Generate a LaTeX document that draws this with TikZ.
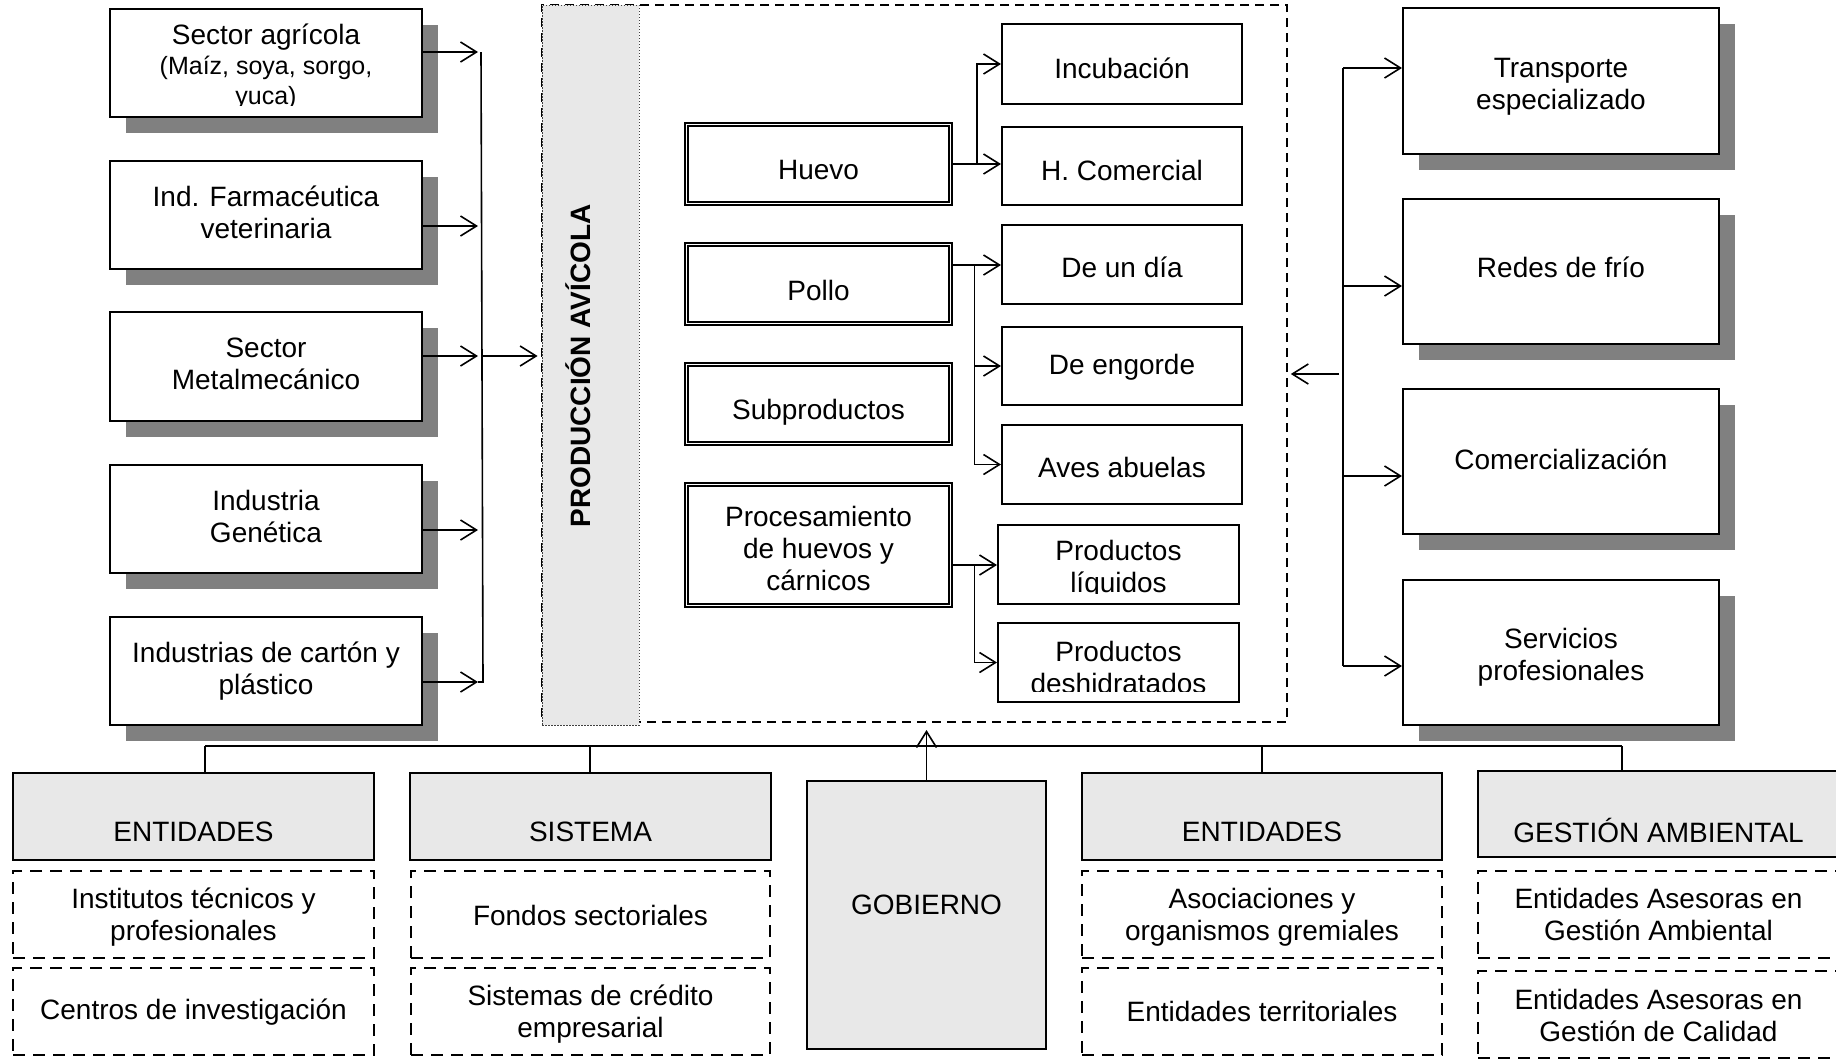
\documentclass[tikz,border=0pt]{standalone}
\usepackage{fontspec}
\setmainfont{Liberation Sans}
\usetikzlibrary{arrows.meta,shadows,calc}
\definecolor{shgray}{HTML}{808080}
\definecolor{hgray}{HTML}{E8E8E8}
\newcommand{\fsz}{\fontsize{28pt}{32pt}\selectfont}
\newcommand{\fszs}{\fontsize{25pt}{30pt}\selectfont}
\begin{document}
\begin{tikzpicture}[x=1pt,y=-1pt,
  wh/.style 2 args={minimum width=#1pt, minimum height=#2pt},
  base/.style={draw=black, line width=2pt, inner sep=0pt, align=center, font=\fsz},
  shbox/.style={base, fill=white, drop shadow={shadow xshift=16pt, shadow yshift=-16pt, fill=shgray, opacity=1}},
  ibox/.style={base, fill=white},
  dbox/.style={base, fill=white, double=white, line width=1.6pt, double distance=1.6pt},
  hbox/.style={base, fill=hgray},
  dshbox/.style={base, dash pattern=on 12pt off 8pt},
  frm/.style={draw=black, line width=1.6pt, dash pattern=on 9pt off 6pt, inner sep=0pt},
  prodbox/.style={draw=black!75, fill=hgray, line width=0.8pt, dash pattern=on 1.5pt off 1.5pt, inner sep=0pt},
  lab/.style={font=\fsz, align=center, inner sep=0pt, text=black},
  ln/.style={line width=1.6pt},
  arr/.style={line width=1.6pt, -{Straight Barb[length=16pt,width=20pt]}}
]
\clip (0,0) rectangle (1836,1058);
\fill[white] (0,0) rectangle (1836,1058);

% central frame
\node[frm, wh={745}{717}] (frame) at (914.5,363.5) {};
\node[prodbox, wh={97}{720}] (prod) at (590.5,365) {};
\node[lab, font=\fsz\bfseries, rotate=90] (prodt) at (578,366) {PRODUCCIÓN AVÍCOLA};

% left boxes
\node[shbox, wh={312}{108}] (agri) at (266,62.5) {};
\begin{scope}
  \clip (112,10) rectangle (420,105);
  \node[lab, font=\fszs] (agrit) at (266,67) {{\fsz Sector agrícola}\\(Maíz, soya, sorgo,\\yuca)};
\end{scope}
\node[shbox, wh={312}{108}, label={[lab,yshift=2.5pt]center:{Ind. Farmacéutica\\veterinaria}}] (farm) at (266,215) {};
\node[shbox, wh={312}{109}, label={[lab,yshift=2.5pt]center:{Sector\\Metalmecánico}}] (metal) at (266,366.5) {};
\node[shbox, wh={312}{108}, label={[lab,yshift=2.5pt]center:{Industria\\Genética}}] (gen) at (266,519) {};
\node[shbox, wh={312}{108}, label={[lab]center:{Industrias de cartón y\\plástico}}] (cart) at (266,671) {};

% left bus
\coordinate (lb1) at (478,52);
\coordinate (lb2) at (478,226);
\coordinate (lb3) at (478,356);
\coordinate (lb4) at (478,530);
\coordinate (lb5) at (478,682);
\coordinate (lbt) at (481,52);
\coordinate (lbb) at (483,682);
\coordinate (lbm) at (483,356);
\draw[arr] (agri.east |- lb1) -- (lb1);
\draw[arr] (farm.east |- lb2) -- (lb2);
\draw[arr] (metal.east |- lb3) -- (lb3);
\draw[arr] (gen.east |- lb4) -- (lb4);
\draw[arr] (cart.east |- lb5) -- (lb5);
\draw[ln] (lbt) -- (lbb) -- (lb5);
\draw[arr, shorten >=4pt] (lbm) -- (prod.west |- lbm);

% product boxes
\node[dbox, wh={264}{79}, label={[lab,yshift=-6pt]center:Huevo}] (huevo) at (818.5,164) {};
\node[dbox, wh={264}{79}, label={[lab,yshift=-6pt]center:Pollo}] (pollo) at (818.5,284) {};
\node[dbox, wh={264}{79}, label={[lab,yshift=-8pt]center:Subproductos}] (subp) at (818.5,404) {};
\node[dbox, wh={264}{121}, label={[lab,yshift=-3.5pt]center:{Procesamiento\\de huevos y\\cárnicos}}] (proc) at (818.5,545) {};

\node[ibox, wh={240}{80}, label={[lab,yshift=-4pt]center:Incubación}] (incub) at (1122,64) {};
\node[ibox, wh={240}{78}, label={[lab,yshift=-4pt]center:H. Comercial}] (hcom) at (1122,166) {};
\node[ibox, wh={240}{79}, label={[lab,yshift=-2.5pt]center:De un día}] (dia) at (1122,264.5) {};
\node[ibox, wh={240}{78}, label={[lab,yshift=-1pt]center:De engorde}] (eng) at (1122,366) {};
\node[ibox, wh={240}{79}, label={[lab,yshift=-2.5pt]center:Aves abuelas}] (abu) at (1122,464.5) {};
\node[ibox, wh={241}{79}] (liq) at (1118.5,564.5) {};
\node[ibox, wh={241}{79}] (desh) at (1118.5,662.5) {};
\begin{scope}
  \clip (999,526) rectangle (1238,593);
  \node[lab] (liqt) at (1118.5,569.5) {Productos\\líquidos};
\end{scope}
\begin{scope}
  \clip (999,624) rectangle (1238,691);
  \node[lab] (desht) at (1118.5,667.5) {Productos\\deshidratados};
\end{scope}

% inner connectors
\coordinate (jh) at (977,164);
\coordinate (jp) at (974.5,265);
\coordinate (jq) at (974.5,565);
\draw[arr] (huevo.east) -- (hcom.west |- huevo.east);
\draw[arr] (jh) |- (incub.west);
\draw[arr] (pollo.east |- jp) -- (dia.west |- jp);
\draw[arr] (jp) |- (eng.west);
\draw[arr] (jp) |- (abu.west);
\draw[arr] (proc.east |- jq) -- (liq.west |- jq);
\draw[arr] (jq) |- (desh.west);

% right boxes
\node[shbox, wh={316}{146}, label={[lab,yshift=-6pt]center:{Transporte\\especializado}}] (transp) at (1561,81) {};
\node[shbox, wh={316}{145}, label={[lab,yshift=4.5pt]center:Redes de frío}] (redes) at (1561,271.5) {};
\node[shbox, wh={316}{145}, label={[lab,yshift=2.5pt]center:Comercialización}] (comer) at (1561,461.5) {};
\node[shbox, wh={316}{145}, label={[lab,yshift=-4.5pt]center:{Servicios\\profesionales}}] (serv) at (1561,652.5) {};

% right bus
\coordinate (rb1) at (1343,68);
\coordinate (rb2) at (1343,286);
\coordinate (rb3) at (1343,476);
\coordinate (rb4) at (1343,666);
\coordinate (rbm) at (1339,374);
\draw[ln] (rb1) -- (rb4);
\draw[arr] (rb1) -- (transp.west |- rb1);
\draw[arr] (rb2) -- (redes.west |- rb2);
\draw[arr] (rb3) -- (comer.west |- rb3);
\draw[arr] (rb4) -- (serv.west |- rb4);
\draw[arr, shorten >=3pt] (rbm) -- (frame.east |- rbm);

% bottom headers
\node[hbox, wh={361}{87}, label={[lab,yshift=-15.5pt]center:ENTIDADES}] (ent1h) at (193.5,816.5) {};
\node[hbox, wh={361}{87}, label={[lab,yshift=-15.5pt]center:SISTEMA}] (sish) at (590.5,816.5) {};
\node[hbox, wh={239}{268}, label={[lab,yshift=10pt]center:GOBIERNO}] (gob) at (926.5,915) {};
\node[hbox, wh={360}{87}, label={[lab,yshift=-15.5pt]center:ENTIDADES}] (ent2h) at (1262,816.5) {};
\node[hbox, wh={361}{86}, label={[lab,yshift=-16pt]center:GESTIÓN AMBIENTAL}] (gesth) at (1658.5,814) {};

% bottom dashed boxes
\node[dshbox, wh={361}{87}, label={[lab,yshift=-3pt]center:{Institutos técnicos y\\profesionales}}] (ent1a) at (193.5,914.5) {};
\node[dshbox, wh={361}{87}, label={[lab,yshift=-1pt]center:Centros de investigación}] (ent1b) at (193.5,1011.5) {};
\node[dshbox, wh={359}{87}, label={[lab,yshift=-1pt]center:Fondos sectoriales}] (sisa) at (590.5,914.5) {};
\node[dshbox, wh={359}{87}, label={[lab,yshift=-3pt]center:{Sistemas de crédito\\empresarial}}] (sisb) at (590.5,1011.5) {};
\node[dshbox, wh={360}{87}, label={[lab,yshift=-3pt]center:{Asociaciones y\\organismos gremiales}}] (ent2a) at (1262,914.5) {};
\node[dshbox, wh={360}{87}, label={[lab]center:Entidades territoriales}] (ent2b) at (1262,1011.5) {};
\node[dshbox, wh={361}{87}, label={[lab]center:{Entidades Asesoras en\\Gestión Ambiental}}] (gesta) at (1658.5,914.5) {};
\node[dshbox, wh={361}{87}, label={[lab,yshift=-1pt]center:{Entidades Asesoras en\\Gestión de Calidad}}] (gestb) at (1658.5,1014.5) {};

% bottom bus
\coordinate (bb1) at (205,746);
\coordinate (bb2) at (590,746);
\coordinate (bb3) at (1262,746);
\coordinate (bb4) at (1622,746);
\coordinate (govtip) at (926.5,730);
\draw[ln] (bb1) -- (bb4);
\draw[ln] (bb1) -- (bb1 |- ent1h.north);
\draw[ln] (bb2) -- (bb2 |- sish.north);
\draw[ln] (bb3) -- (bb3 |- ent2h.north);
\draw[ln] (bb4) -- (bb4 |- gesth.north);
\draw[arr] (gob.north) -- (govtip);
\end{tikzpicture}
\end{document}
